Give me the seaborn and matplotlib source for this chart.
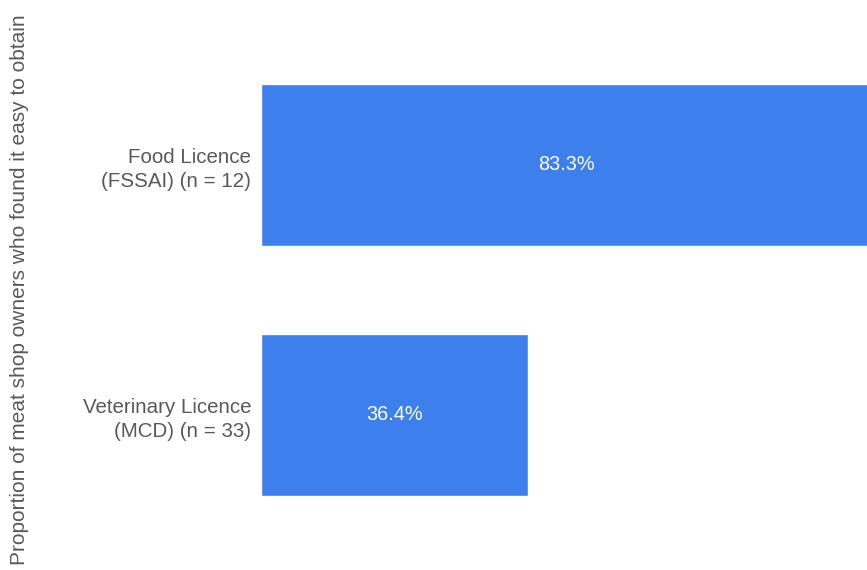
import matplotlib
matplotlib.use("Agg")
import matplotlib.pyplot as plt
import seaborn as sns
import pandas as pd

categories = ["Food Licence\n(FSSAI) (n = 12)", "Veterinary Licence\n(MCD) (n = 33)"]
values = [83.3, 36.4]
value_labels = ["83.3%", "36.4%"]
y_title = "Proportion of meat shop owners who found it easy to obtain"

sns.set_style("white")
plt.rcParams["font.family"] = ["Liberation Sans", "DejaVu Sans"]

df = pd.DataFrame({"licence": categories, "pct": values})

fig = plt.figure(figsize=(8.67, 5.70), dpi=100)
ax = fig.add_axes([261 / 867, 0.0, 1 - 261 / 867, 1.0])

bar_color = "#3d7fec"
sns.barplot(data=df, y="licence", x="pct", orient="h", color=bar_color,
            width=0.65, saturation=1, ax=ax)

for patch, lab in zip(ax.patches, value_labels):
    cx = patch.get_x() + patch.get_width() / 2
    cy = patch.get_y() + patch.get_height() / 2
    ax.text(cx, cy, lab, ha="center", va="center", color="white", fontsize=14.3)

ax.set_xlim(0, 82.7)
ax.set_ylim(1.62, -0.66)
ax.set_xlabel("")
ax.set_ylabel("")
ax.set_xticks([])
ax.tick_params(axis="y", length=0, pad=7, labelsize=14.8, labelcolor="#595959")
for lbl in ax.get_yticklabels():
    lbl.set_horizontalalignment("right")
    lbl.set_multialignment("right")
    lbl.set_linespacing(1.35)
for s in ax.spines.values():
    s.set_visible(False)

fig.text(20 / 867, 0.5 - 5 / 570, y_title, rotation=90, ha="center", va="center",
         fontsize=15, color="#595959")

fig.savefig("out.png", dpi=100)
